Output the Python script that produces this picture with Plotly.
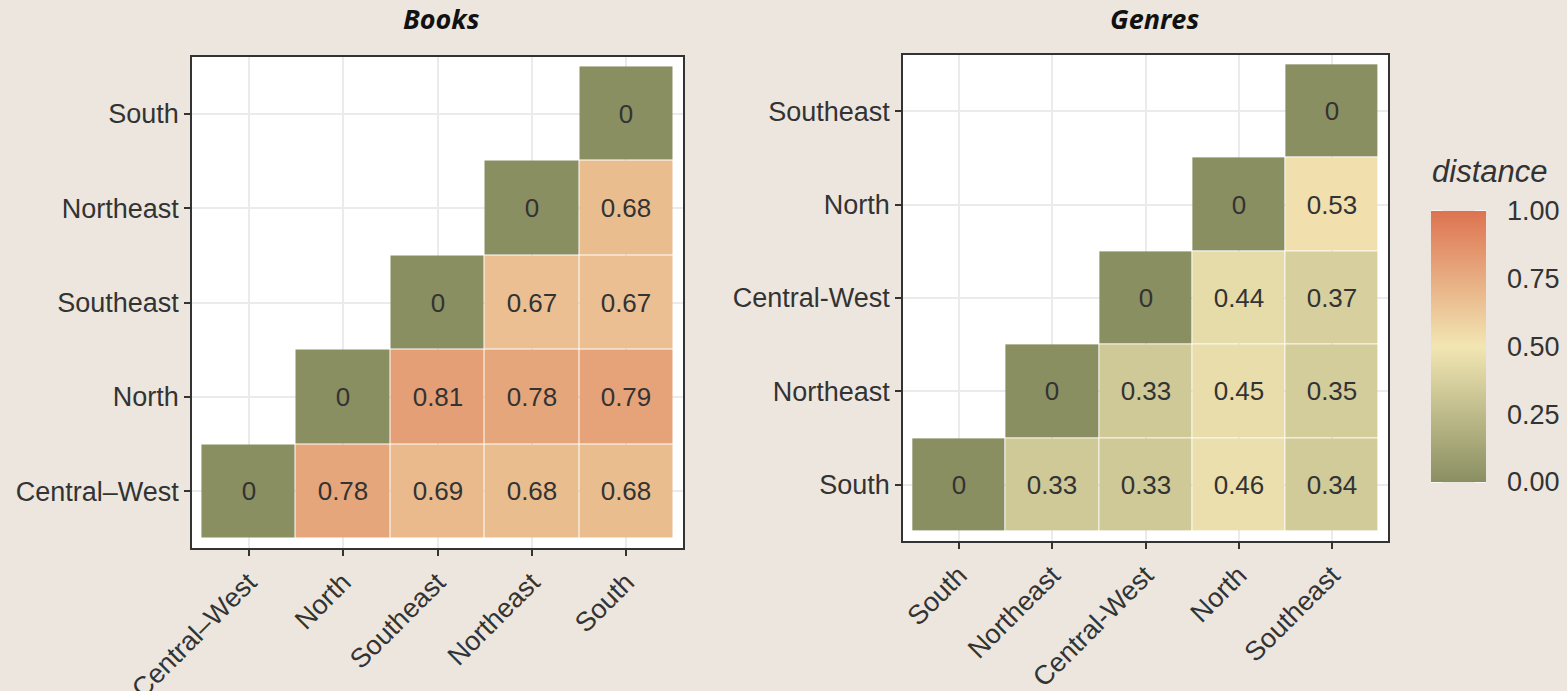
import plotly.graph_objects as go

# ---------------- data ----------------
books_regions = ["Central–West", "North", "Southeast", "Northeast", "South"]
books_values = [
    [0, 0.78, 0.69, 0.68, 0.68],
    [None, 0, 0.81, 0.78, 0.79],
    [None, None, 0, 0.67, 0.67],
    [None, None, None, 0, 0.68],
    [None, None, None, None, 0],
]

genres_regions = ["South", "Northeast", "Central-West", "North", "Southeast"]
genres_values = [
    [0, 0.33, 0.33, 0.46, 0.34],
    [None, 0, 0.33, 0.45, 0.35],
    [None, None, 0, 0.44, 0.37],
    [None, None, None, 0, 0.53],
    [None, None, None, None, 0],
]

legend_ticks = [0, 0.25, 0.5, 0.75, 1.0]
legend_ticktext = ["0.00", "0.25", "0.50", "0.75", "1.00"]

# ---------------- styling ----------------
W, H = 1567, 691
BG = "#ece6de"
TXT = "#333333"
LABEL_FONT = "Liberation Sans, Arial, sans-serif"
colorscale = [[0.0, "#8a8f62"], [0.5, "#f2e6b3"], [1.0, "#dd7350"]]


def fmt(v):
    if v is None:
        return ""
    return "0" if v == 0 else f"{v:.2f}"


def px_x(p):
    return p / W


def px_y(p):
    return 1 - p / H


fig = go.Figure()

for i, (regions, values) in enumerate([(books_regions, books_values),
                                        (genres_regions, genres_values)]):
    fig.add_trace(go.Heatmap(
        x=regions, y=regions, z=values,
        text=[[fmt(v) for v in row] for row in values],
        texttemplate="%{text}",
        textfont=dict(family=LABEL_FONT, size=26, color=TXT),
        coloraxis="coloraxis",
        xgap=1, ygap=1,
        xaxis="x" if i == 0 else "x2",
        yaxis="y" if i == 0 else "y2",
        hoverinfo="skip",
    ))

axis_common = dict(
    type="category",
    range=[-0.6, 4.6],
    automargin=False,
    showgrid=True, gridcolor="#ebebeb", gridwidth=1.5,
    showline=True, mirror=True, linecolor="#333333", linewidth=1.5,
    ticks="outside", ticklen=6, tickwidth=1.5, tickcolor="#333333",
    tickfont=dict(family=LABEL_FONT, size=27, color=TXT),
    zeroline=False, fixedrange=True,
)

BAR_X0, BAR_W = 1431, 55
bar_top, bar_bottom = 211, 482

fig.update_layout(
    width=W, height=H, autosize=False,
    margin=dict(l=0, r=0, t=0, b=0, pad=0),
    paper_bgcolor=BG, plot_bgcolor="white",
    xaxis=dict(axis_common, domain=[px_x(192), px_x(683)], anchor="y",
               categoryorder="array", categoryarray=books_regions, tickangle=-45),
    yaxis=dict(axis_common, domain=[px_y(548), px_y(57)], anchor="x",
               categoryorder="array", categoryarray=books_regions),
    xaxis2=dict(axis_common, domain=[px_x(903), px_x(1388)], anchor="y2",
                categoryorder="array", categoryarray=genres_regions, tickangle=-45),
    yaxis2=dict(axis_common, domain=[px_y(541), px_y(55)], anchor="x2",
                categoryorder="array", categoryarray=genres_regions),
    coloraxis=dict(
        cmin=0, cmax=1, colorscale=colorscale,
        colorbar=dict(
            x=px_x(BAR_X0), xanchor="left", xpad=0,
            y=px_y((bar_top + bar_bottom) / 2), yanchor="middle", ypad=0,
            len=bar_bottom - bar_top, lenmode="pixels",
            thickness=BAR_W, thicknessmode="pixels",
            outlinewidth=0,
            tickvals=legend_ticks, ticktext=legend_ticktext,
            ticks="outside", ticklen=16, tickwidth=1, tickcolor="rgba(0,0,0,0)",
            tickfont=dict(family=LABEL_FONT, size=27, color=TXT),
        ),
    ),
    showlegend=False,
)

# white ticks on both sides of the colorbar (ggplot style)
for v in legend_ticks:
    yy = bar_bottom - v * (bar_bottom - bar_top)
    for xa, xb in [(BAR_X0, BAR_X0 + 11), (BAR_X0 + BAR_W - 11, BAR_X0 + BAR_W)]:
        fig.add_shape(type="line", xref="paper", yref="paper",
                      x0=px_x(xa), x1=px_x(xb), y0=px_y(yy), y1=px_y(yy),
                      line=dict(color="white", width=1.5), layer="above")

# legend title
fig.add_annotation(text="<i>distance</i>", xref="paper", yref="paper",
                   x=px_x(1430), y=px_y(172), xanchor="left", yanchor="middle",
                   showarrow=False,
                   font=dict(family=LABEL_FONT, size=31, color=TXT))

# panel titles
for label, cx in [("Books", 441), ("Genres", 1154)]:
    fig.add_annotation(text=f"<b><i>{label}</i></b>", xref="paper", yref="paper",
                       x=px_x(cx), y=px_y(19), xanchor="center", yanchor="middle",
                       showarrow=False,
                       font=dict(family="Open Sans, Lato, sans-serif", size=27, color="#111111"))

fig.write_html(
    "out.html",
    config={"displayModeBar": False},
    post_script="document.body.style.margin='0';document.body.style.overflow='hidden';",
)
